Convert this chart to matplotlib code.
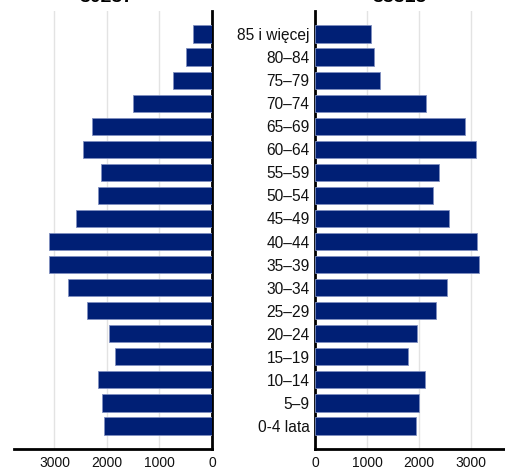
import numpy as np
import matplotlib.pyplot as plt

plt.rcParams['font.family'] = ['Liberation Sans', 'DejaVu Sans']

# age groups, youngest first
age_groups = ['0-4 lata', '5–9', '10–14', '15–19', '20–24', '25–29', '30–34',
              '35–39', '40–44', '45–49', '50–54', '55–59', '60–64', '65–69',
              '70–74', '75–79', '80–84', '85 i więcej']
left_values = [2050, 2100, 2165, 1840, 1955, 2385, 2745, 3110, 3110, 2590,
               2165, 2120, 2465, 2285, 1505, 750, 500, 370]
right_values = [1940, 2005, 2110, 1790, 1955, 2315, 2545, 3145, 3110, 2565,
                2275, 2390, 3085, 2885, 2130, 1250, 1130, 1070]
left_title = '30237'
right_title = '33315'
ticks = [0, 1000, 2000, 3000]

bar_color = '#001f75'
edge_color = '#7f8fc0'

fig = plt.figure(figsize=(5.05, 4.7), dpi=100)
ax_l = fig.add_axes([14 / 505, 21 / 470, 198 / 505, 438 / 470])
ax_r = fig.add_axes([315 / 505, 21 / 470, 190 / 505, 438 / 470])

y = np.arange(len(age_groups))

ax_l.barh(y, left_values, height=0.75, color=bar_color, edgecolor=edge_color,
          linewidth=0.6, zorder=3)
ax_r.barh(y, right_values, height=0.75, color=bar_color, edgecolor=edge_color,
          linewidth=0.6, zorder=3)

ax_l.set_xlim(3770, 0)
ax_r.set_xlim(0, 3650)
for ax in (ax_l, ax_r):
    ax.set_ylim(-1, len(age_groups))
    ax.set_xticks(ticks)
    ax.set_xticklabels([str(t) for t in ticks])
    ax.grid(axis='x', color='#e3e3e3', linewidth=1, zorder=0)
    ax.spines['top'].set_visible(False)
    ax.spines['bottom'].set_linewidth(2)
    ax.tick_params(axis='x', length=0, pad=5, labelsize=10, colors='#111111')

ax_l.spines['left'].set_visible(False)
ax_l.spines['right'].set_linewidth(2)
ax_l.set_yticks([])

ax_r.spines['right'].set_visible(False)
ax_r.spines['left'].set_linewidth(2)
ax_r.set_yticks(y)
ax_r.set_yticklabels(age_groups)
ax_r.tick_params(axis='y', length=0, pad=4, labelsize=11.2, colors='#111111')

# titles, mostly clipped by the top edge as in the original
fig.text(107 / 505, 1 - 1.5 / 470, left_title, ha='center', va='baseline',
         fontsize=14, fontweight='bold')
fig.text(400 / 505, 1 - 1.5 / 470, right_title, ha='center', va='baseline',
         fontsize=14, fontweight='bold')

fig.savefig('out.png', dpi=100)
